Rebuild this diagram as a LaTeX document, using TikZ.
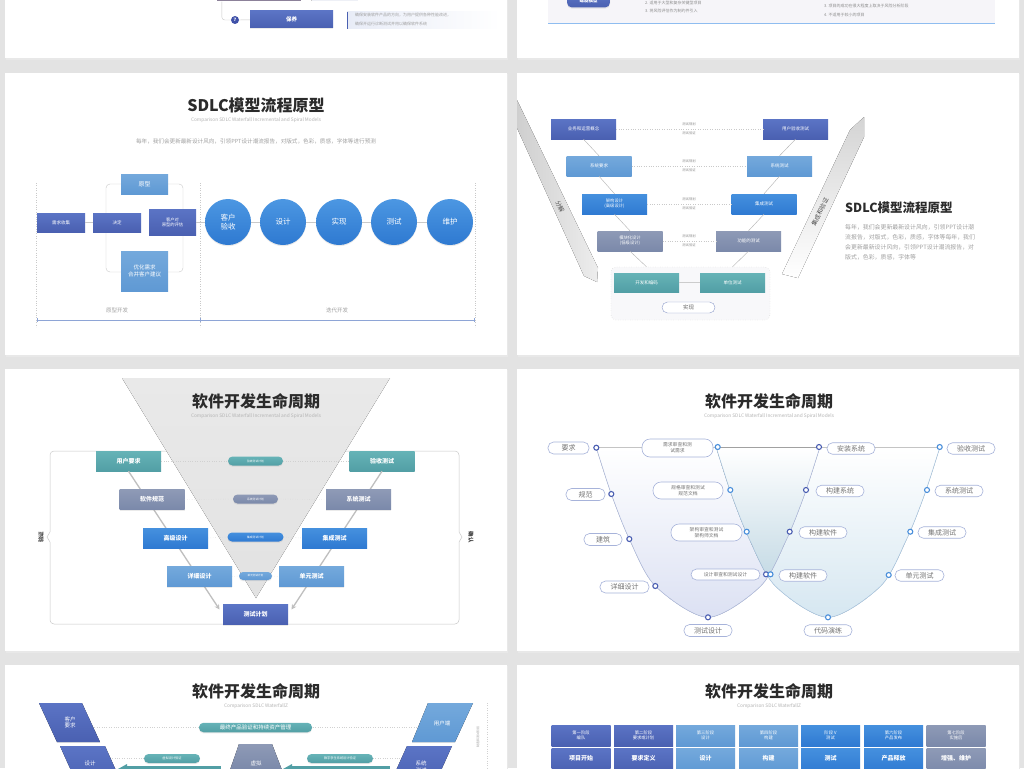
\documentclass[tikz,border=0pt]{standalone}
\usepackage{fontspec}
\setmainfont{Noto Sans CJK SC}
\usetikzlibrary{shadows,arrows.meta,calc}
\newcommand{\fsz}[2]{\fontsize{#1}{#2}\selectfont}
\definecolor{bgc}{HTML}{E3E3E3}
\definecolor{dblue}{HTML}{4A60B1}
\definecolor{dblue2}{HTML}{5B74C5}
\definecolor{lblue}{HTML}{74A9DC}
\definecolor{lblue2}{HTML}{5F99D4}
\definecolor{mblue}{HTML}{4590DE}
\definecolor{mblue2}{HTML}{2F7AD2}
\definecolor{gblue}{HTML}{8E9AB6}
\definecolor{gblue2}{HTML}{7B89AA}
\definecolor{teal1}{HTML}{66B3B7}
\definecolor{teal2}{HTML}{529FA5}
\definecolor{tgray}{HTML}{A0A0A0}
\definecolor{ttitle}{HTML}{2B2B2B}
\definecolor{lineg}{HTML}{C9C9C9}
\definecolor{pillb}{HTML}{A7B3DA}
\definecolor{ringd}{HTML}{4A5EB2}
\definecolor{ringl}{HTML}{4A8FDB}
\definecolor{cmauve}{HTML}{8C8199}
\definecolor{cpale}{HTML}{EEF0F6}
\definecolor{cnum}{HTML}{3F51A8}
\definecolor{cdesc}{HTML}{E8ECF7}
\definecolor{cpanel}{HTML}{F6F5F9}
\definecolor{cline}{HTML}{8FBDF0}
\definecolor{caxis}{HTML}{8EA5D6}
\definecolor{ccira}{HTML}{4C97E2}
\definecolor{ccirb}{HTML}{2E79D1}
\definecolor{bandA}{HTML}{CFCFCF}
\definecolor{bandB}{HTML}{EDEDED}
\definecolor{bandC}{HTML}{D4D4D4}
\definecolor{cimpl}{HTML}{F8F8FA}
\definecolor{cimplb}{HTML}{8E9CCB}
\definecolor{triA}{HTML}{E9E9E9}
\definecolor{triB}{HTML}{E2E2E2}
\definecolor{uA}{HTML}{DCE1F3}
\definecolor{uB}{HTML}{D6E7F1}
\definecolor{uC}{HTML}{B3CFDD}
\definecolor{uAl}{HTML}{B7C2E2}
\definecolor{uBl}{HTML}{B2CDE6}
\tikzset{
  base/.style={inner sep=0pt, text=white, align=center},
  sz/.style 2 args={minimum width=#1, minimum height=#2},
  sh/.style={drop shadow={opacity=0.16, shadow xshift=0pt, shadow yshift=-1.2pt}},
  bxd/.style={base, sh, top color=dblue2, bottom color=dblue},
  bxl/.style={base, sh, top color=lblue, bottom color=lblue2},
  bxm/.style={base, sh, top color=mblue, bottom color=mblue2},
  bxg/.style={base, sh, top color=gblue, bottom color=gblue2},
  bxt/.style={base, sh, top color=teal1, bottom color=teal2},
  ttl/.style={font=\fsz{16}{18}\bfseries, text=ttitle, inner sep=0pt},
  subt/.style={font=\fsz{4.8}{6}, text=tgray!80, inner sep=0pt},
  small/.style={font=\fsz{4}{5}, text=tgray, inner sep=0pt},
  upill/.style={draw=pillb, fill=white, rounded corners=5.5, text=black!55, inner sep=0pt, align=center, line width=0.6, font=\fsz{7}{8}},
  upill2/.style={upill, font=\fsz{4.8}{6}},
  rd/.style={circle, draw=ringd, fill=white, line width=1.1, minimum size=5, inner sep=0pt},
  rl/.style={circle, draw=ringl, fill=white, line width=1.1, minimum size=5, inner sep=0pt},
  slideshadow/.style={fill=black!9},
}
\begin{document}
\begin{tikzpicture}[x=1pt,y=-1pt]
\useasboundingbox (0,0) rectangle (1024,768);
\clip (0,0) rectangle (1024,768);
\fill[bgc] (0,0) rectangle (1024,768);

% ---------------- slides ----------------
\foreach \xa/\xb in {5/507,517/1019}{
  \foreach \ya/\yb in {-10/58,73/355,369/651,665/800}{
    \fill[slideshadow] (\xa+1,\ya+1) rectangle (\xb+1,\yb+1.5);
    \fill[white] (\xa,\ya) rectangle (\xb,\yb);
  }
}

% ================= Row 0 left =================
\node[fill=cmauve, minimum width=84, minimum height=12, inner sep=0pt] (tb) at (259,-4.5) {};
\fill[cpale] (311,-5) rectangle (358,1);
\draw[lineg] (311,-5) -- (311,1);
\node[circle, fill=cnum, text=white, minimum size=8, inner sep=0pt, font=\fsz{4.5}{5}\bfseries] (n7) at (235,20) {7};
\node[bxd, sz={83}{17}, font=\fsz{5.5}{6}\bfseries] (by) at (291.5,19.5) {保养};
\draw[lineg, rounded corners=3] ($(tb.south west)+(5,0)$) |- (n7);
\draw[lineg] (n7) -- (by);
\shade[left color=cdesc, right color=white] (347,12) rectangle (500,29);
\draw[dblue, line width=1] (347,12) -- (347,29);
\node[small, anchor=west] (t01) at (355,15.5) {确保安装软件产品的方向，为用户提供各种性能改进，};
\node[small, anchor=west] (t02) at (355,24) {确保开运行诊断测试并用以确保软件系统};

% ================= Row 0 right =================
\fill[cpanel] (548,-10) rectangle (995,24);
\draw[cline, line width=1] (548,24) -- (995,24);
\node[bxd, rounded corners=5, sz={43}{14}, font=\fsz{4.5}{5}\bfseries] (lx) at (588.5,0.5) {螺旋模型};
\node[small, anchor=west, text=black!45] (t03) at (645,2.5) {2. 适用于大型和复杂关键型项目};
\node[small, anchor=west, text=black!45] (t04) at (645,10.5) {3. 将风险评估作为制约件引入};
\node[small, anchor=west, text=black!45] (t05) at (824,6) {3. 项目的成功在很大程度上取决于风险分析阶段};
\node[small, anchor=west, text=black!45] (t06) at (824,15) {4. 不适用于较小的项目};

% ================= Row 1 left: prototype =================
\node[ttl] (T1) at (256,105) {SDLC模型流程原型};
\node[subt] (S1) at (256,120) {Comparison SDLC Waterfall Incremental and Spiral Models};
\node[font=\fsz{5.6}{7}, text=tgray, inner sep=0pt] (D1) at (256,141) {每年，我们会更新最新设计风向，引领PPT设计潮流报告，对版式，色彩，质感，字体等进行预测};
\draw[lineg, dotted] (36,183) -- (36,327);
\draw[lineg, dotted] (200,183) -- (200,327);
\draw[lineg, dotted] (475,183) -- (475,327);
\draw[caxis, line width=0.7] (37,320) -- (474,320);
\draw[caxis, line width=0.7] (37,318) -- (37,322) (200,318) -- (200,322) (474,318) -- (474,322);
\node[font=\fsz{5.5}{6}, text=tgray] (L1) at (117,310) {原型开发};
\node[font=\fsz{5.5}{6}, text=tgray] (L2) at (337,310) {迭代开发};
\draw[lineg, rounded corners=4] (106,184) rectangle (183,272);
\node[bxd, sz={48}{19}, font=\fsz{4.5}{5.5}] (xq) at (61,222.5) {需求收集};
\node[bxd, sz={48}{19}, font=\fsz{4.5}{5.5}] (jd) at (117,222.5) {决定};
\node[bxl, sz={47}{20}, font=\fsz{6}{7}] (yx) at (144.5,184) {原型};
\node[bxd, sz={47}{26}, font=\fsz{4.3}{5.2}] (pg) at (172.5,222) {客户对\\原型的评估};
\node[bxl, sz={47}{40}, font=\fsz{5.5}{7}] (yh) at (144.5,271) {优化需求\\合并客户建议};
\draw[lineg] (xq) -- (jd);
\foreach \nm/\xx/\tx in {c1/228/{客户\\验收},c2/283/设计,c3/339/实现,c4/394/测试,c5/450/维护}{
  \node[circle, base, sh, top color=ccira, bottom color=ccirb, minimum size=46, font=\fsz{7.5}{9}] (\nm) at (\xx,222) {\tx};
}
\draw[lineg] (pg.east) -- (c1.west);
\draw[lineg] (c1) -- (c2) (c2) -- (c3) (c3) -- (c4) (c4) -- (c5);

% ================= Row 1 right: V model =================
\fill[left color=bandA, right color=bandB] (517,100) -- (598,268) -- (597,282) -- (584,276) -- (517,128) -- cycle;
\fill[top color=bandC, bottom color=white] (782,274) -- (850,130) -- (864,117) -- (864,137) -- (798,278) -- cycle;
\node[font=\fsz{6}{7}, text=black!70, rotate=-64, inner sep=0pt] (fj) at (560,207) {分解};
\node[font=\fsz{6}{7}, text=black!70, rotate=64, inner sep=0pt] (jc) at (820,212) {集成和验证};
\draw[lineg, dotted, fill=cimpl, rounded corners=5] (611,267) rectangle (770,320);
\node[bxd, sz={65}{20}, font=\fsz{4.5}{5.5}] (b1) at (583.5,129) {业务和运营概念};
\node[bxl, sz={65}{20}, font=\fsz{4.5}{5.5}] (b2) at (599,166) {系统要求};
\node[bxm, sz={65}{20}, font=\fsz{4.3}{5.2}] (b3) at (614.5,204) {架构设计\\(高级设计)};
\node[bxg, sz={65}{20}, font=\fsz{4.3}{5.2}] (b4) at (630,241) {模块化设计\\(低级设计)};
\node[bxd, sz={65}{20}, font=\fsz{4.5}{5.5}] (r1) at (795.5,129) {用户验收测试};
\node[bxl, sz={65}{20}, font=\fsz{4.5}{5.5}] (r2) at (779.5,166) {系统测试};
\node[bxm, sz={65}{20}, font=\fsz{4.5}{5.5}] (r3) at (764,204) {集成测试};
\node[bxg, sz={65}{20}, font=\fsz{4.5}{5.5}] (r4) at (748.5,241) {功能的测试};
\node[bxt, sz={65}{19}, font=\fsz{4.5}{5.5}] (d1) at (646.5,282.5) {开发和编码};
\node[bxt, sz={65}{19}, font=\fsz{4.5}{5.5}] (d2) at (732.5,282.5) {单位测试};
\node[draw=cimplb, fill=white, rounded corners=5.5, sz={53}{11}, inner sep=0pt, font=\fsz{5.5}{6}, text=black!60] (im) at (688.5,307.5) {实现};
\draw[black!30] (b1.south) -- (b2.north) (b2.south) -- (b3.north) (b3.south) -- (b4.north);
\draw[black!30] (b4.south) -- ($(d1.north)+(0,-6)$);
\draw[black!30] (r1.south) -- (r2.north) (r2.south) -- (r3.north) (r3.south) -- (r4.north);
\draw[black!30] (r4.south) -- ($(d2.north)+(0,-6)$);
\draw[black!20] (d1) -- (d2);
\foreach \p/\q/\yy in {b1/r1/129,b2/r2/166,b3/r3/204,b4/r4/241}{
  \draw[lineg, dotted] (\p.east) -- (\q.west);
  \node[font=\fsz{3.3}{4}, text=black!45, inner sep=0pt] (\p u) at (689,\yy-4.5) {测试规划};
  \node[font=\fsz{3.3}{4}, text=black!45, inner sep=0pt] (\p d) at (689,\yy+4.5) {测试验证};
}
\node[font=\fsz{12.5}{14}\bfseries, text=ttitle, anchor=west, inner sep=0pt] (T2) at (845,208) {SDLC模型流程原型};
\node[font=\fsz{5.9}{10}, text=tgray, anchor=north west, align=left, inner sep=0pt] (D2) at (845,224) {每年，我们会更新最新设计风向，引领PPT设计潮\\流报告，对版式，色彩，质感，字体等每年，我们\\会更新最新设计风向，引领PPT设计潮流报告，对\\版式，色彩，质感，字体等};

% ================= Row 2 left: inverted triangle =================
\draw[lineg, line width=0.5, rounded corners=4] (50,451) rectangle (459,624);
\fill[white] (48,532) rectangle (52,542) (457,532) rectangle (461,542);
\draw[lineg, line width=0.5] (50,532) -- (47,537) -- (50,542) (459,532) -- (462,537) -- (459,542);
\fill[top color=triA, bottom color=triB] (122,378) -- (390,378) -- (256,598) -- cycle;
\node[ttl] (T3) at (256,401) {软件开发生命周期};
\node[subt] (S3) at (256,416) {Comparison SDLC Waterfall Incremental and Spiral Models};
\node[font=\fsz{5.5}{6}\bfseries, text=black!75, rotate=90, inner sep=0pt] (vl) at (41,537) {验证};
\node[font=\fsz{5.5}{6}\bfseries, text=black!75, rotate=-90, inner sep=0pt] (vr) at (471,537) {确认};
\node[bxd, sz={65}{20}, font=\fsz{6}{7}\bfseries] (tp) at (255.5,614.5) {测试计划};
\node[bxt, sz={65}{20}, font=\fsz{6}{7}\bfseries] (u1) at (128.5,461) {用户要求};
\node[bxt, sz={65}{20}, font=\fsz{6}{7}\bfseries] (v1) at (382,461) {验收测试};
\draw[black!25, line width=1.3, -{Stealth[length=5pt,width=5pt]}, shorten >=6pt] (u1.south) -- (tp.west);
\draw[black!25, line width=1.3, -{Stealth[length=5pt,width=5pt]}, shorten >=6pt] (v1.south) -- (tp.east);
\node[bxg, sz={65}{20}, font=\fsz{6}{7}\bfseries] (u2) at (152,499.5) {软件规范};
\node[bxm, sz={65}{20}, font=\fsz{6}{7}\bfseries] (u3) at (175.5,538) {高级设计};
\node[bxl, sz={65}{20}, font=\fsz{6}{7}\bfseries] (u4) at (199.5,576.5) {详细设计};
\node[bxg, sz={65}{20}, font=\fsz{6}{7}\bfseries] (v2) at (358.5,499.5) {系统测试};
\node[bxm, sz={65}{20}, font=\fsz{6}{7}\bfseries] (v3) at (334.5,538) {集成测试};
\node[bxl, sz={65}{20}, font=\fsz{6}{7}\bfseries] (v4) at (311.5,576.5) {单元测试};
\node[bxt, rounded corners=4.5, sz={55}{9}, font=\fsz{2.8}{3}] (p1) at (255.5,461) {验收测试计划};
\node[bxg, rounded corners=4.5, sz={45}{9}, font=\fsz{2.8}{3}] (p2) at (255.5,499) {系统测试计划};
\node[bxm, rounded corners=4.5, sz={56}{9}, font=\fsz{2.8}{3}] (p3) at (255.5,537) {集成测试计划};
\node[bxl, rounded corners=4, sz={33}{8}, font=\fsz{2.6}{3}] (p4) at (255.5,576) {单元测试计划};
\foreach \a/\b/\c in {u1/p1/v1,u2/p2/v2,u3/p3/v3,u4/p4/v4}{
  \draw[black!18, dotted] (\a.east) -- (\b.west) (\b.east) -- (\c.west);
}

% ================= Row 2 right: double U =================
\node[ttl] (T4) at (769,401) {软件开发生命周期};
\node[subt] (S4) at (769,416) {Comparison SDLC Waterfall Incremental and Spiral Models};
\fill[top color=white, bottom color=uA] plot[smooth] coordinates {(596.3,447.7) (611.3,494) (629.3,539) (655.3,586) (708,617.3) (760.7,586) (786.7,539) (804.7,494) (819.7,447.7)} -- cycle;
\fill[top color=white, bottom color=uB] plot[smooth] coordinates {(716.3,447.7) (731.3,494) (749.3,539) (775.3,586) (828,617.3) (880.7,586) (906.7,539) (924.7,494) (939.7,447.7)} -- cycle;
\begin{scope}
  \clip plot[smooth] coordinates {(596.3,447.7) (611.3,494) (629.3,539) (655.3,586) (708,617.3) (760.7,586) (786.7,539) (804.7,494) (819.7,447.7)} -- cycle;
  \fill[top color=white, bottom color=uC] plot[smooth] coordinates {(716.3,447.7) (731.3,494) (749.3,539) (775.3,586) (828,617.3) (880.7,586) (906.7,539) (924.7,494) (939.7,447.7)} -- cycle;
\end{scope}
\draw[uAl, line width=0.6] plot[smooth] coordinates {(596.3,447.7) (611.3,494) (629.3,539) (655.3,586) (708,617.3) (760.7,586) (786.7,539) (804.7,494) (819.7,447.7)};
\draw[uBl, line width=0.6] plot[smooth] coordinates {(716.3,447.7) (731.3,494) (749.3,539) (775.3,586) (828,617.3) (880.7,586) (906.7,539) (924.7,494) (939.7,447.7)};
% rings left U
\node[rd] (a1) at (596.3,447.7) {};
\node[rd] (a2) at (611.3,494) {};
\node[rd] (a3) at (629.3,539) {};
\node[rd] (a4) at (655.3,586) {};
\node[rd] (a5) at (708,617.3) {};
\node[rd] (a6) at (766,574.3) {};
\node[rd] (a7) at (789.7,531.7) {};
\node[rd] (a8) at (806,490) {};
\node[rd] (a9) at (819,447) {};
% rings right U
\node[rl] (e1) at (717.7,447) {};
\node[rl] (e2) at (730.3,490) {};
\node[rl] (e3) at (746.7,531.7) {};
\node[rl] (e4) at (770.5,574.3) {};
\node[rl] (e5) at (828,617.3) {};
\node[rl] (e6) at (888.7,575) {};
\node[rl] (e7) at (910.3,531.7) {};
\node[rl] (e8) at (927,490) {};
\node[rl] (e9) at (939.7,447) {};
% labels
\node[upill, sz={41}{12}] (l1) at (568.5,448) {要求};
\node[upill, sz={39}{12}] (l2) at (585.5,494.5) {规范};
\node[upill, sz={38}{12}] (l3) at (603,539.5) {建筑};
\node[upill, sz={49}{12}] (l4) at (624.5,587) {详细设计};
\node[upill, sz={48}{12}] (l5) at (708,630.5) {测试设计};
\node[upill2, sz={71}{18}, rounded corners=8] (m1) at (677.5,448) {需求审查和测\\试需求};
\node[upill2, sz={70}{17}, rounded corners=8] (m2) at (688,490.5) {规格审查和测试\\规范文档};
\node[upill2, sz={71}{17}, rounded corners=8] (m3) at (706.5,532.5) {架构审查和测试\\架构师文档};
\node[upill2, sz={69}{11}] (m4) at (725.5,574.5) {设计审查和测试设计};
\node[upill, sz={48}{11.5}] (n1) at (851,448.5) {安装系统};
\node[upill, sz={48}{11.5}] (n2) at (840,491) {构建系统};
\node[upill, sz={48}{11.5}] (n3) at (823,532.5) {构建软件};
\node[upill, sz={48}{11.5}] (n4) at (803,575.5) {构建软件};
\node[upill, sz={48}{11.5}] (n5) at (828,630.5) {代码演练};
\node[upill, sz={48}{11.5}] (o1) at (971,448.5) {验收测试};
\node[upill, sz={48}{11.5}] (o2) at (959,491) {系统测试};
\node[upill, sz={48}{11.5}] (o3) at (942,532.5) {集成测试};
\node[upill, sz={49}{11.5}] (o4) at (919.5,575.5) {单元测试};

% ================= Row 3 left =================
\node[ttl] (T5) at (256,691) {软件开发生命周期};
\node[subt] (S5) at (256,706) {Comparison SDLC WaterfallZ};
\draw[black!18, dotted] (92,727.5) -- (418,727.5);
\draw[black!18, dotted] (105,758.5) -- (144,758.5) (373,758.5) -- (400,758.5);
\fill[top color=dblue2, bottom color=dblue] (39,703) -- (82,703) -- (100,742) -- (57,742) -- cycle;
\node[base, font=\fsz{5.5}{6.5}] (k1) at (70,722.5) {客户\\要求};
\fill[top color=dblue2, bottom color=dblue] (60,746) -- (105,746) -- (123,786) -- (78,786) -- cycle;
\node[base, font=\fsz{5.5}{6.5}] (k2) at (90,763) {设计};
\fill[top color=lblue, bottom color=lblue2] (428,703) -- (473,703) -- (455,742) -- (412,742) -- cycle;
\node[base, font=\fsz{5.5}{6.5}] (k3) at (442,723) {用户端};
\fill[top color=dblue2, bottom color=dblue] (407,746) -- (452,746) -- (434,786) -- (389,786) -- cycle;
\node[base, font=\fsz{5.5}{7}] (k4) at (421,767) {系统\\测试};
\node[bxt, rounded corners=4.5, sz={113}{9.5}, font=\fsz{5.5}{6}] (fp) at (255.5,727.5) {最终产品验证和持续资产管理};
\fill[top color=gblue, bottom color=gblue2] (239,744) -- (272,744) -- (282,770) -- (230,770) -- cycle;
\node[base, font=\fsz{5.5}{6.5}] (k5) at (256,763) {虚拟};
\node[bxt, rounded corners=4.5, sz={56}{9}, font=\fsz{3.2}{4}] (q1) at (172,758.5) {虚拟设计验证};
\node[bxt, rounded corners=4.5, sz={66}{9}, font=\fsz{3.2}{4}] (q2) at (340,758.5) {数字孪生系统设计验证};
\fill[teal2] (126,766) rectangle (221,772);
\fill[teal2] (118,769) -- (127,764) -- (127,774) -- cycle;
\fill[teal2] (291,766) rectangle (390,772);
\fill[teal2] (283,769) -- (292,764) -- (292,774) -- cycle;
\draw[black!18, dotted] (487,703) -- (487,768);
\node[font=\fsz{3}{4}, text=tgray, rotate=90, inner sep=0pt] (vt) at (478,737) {制造和测试阶段};

% ================= Row 3 right: grid =================
\node[ttl] (T6) at (769,691) {软件开发生命周期};
\node[subt] (S6) at (769,706) {Comparison SDLC WaterfallZ};
\foreach \nm/\st/\xx/\ta/\tb in {g1/bxd/581/{第一阶段\\编队}/项目开始, g2/bxd/643.5/{第二阶段\\要求或计划}/要求定义, g3/bxl/705.5/{第三阶段\\设计}/设计, g4/bxl/768.5/{第四阶段\\构建}/构建, g5/bxm/830.5/{阶段 V\\测试}/测试, g6/bxm/893.5/{第六阶段\\产品发布}/产品释放, g7/bxg/956/{第七阶段\\实施后}/{增强、维护}}{
  \node[\st, sz={59}{21}, font=\fsz{4.3}{5.2}] (\nm a) at (\xx,735.5) {\ta};
  \node[\st, sz={59}{24}, font=\fsz{6}{7}\bfseries] (\nm b) at (\xx,760) {\raisebox{4pt}{\tb}};
}
\end{tikzpicture}
\end{document}
